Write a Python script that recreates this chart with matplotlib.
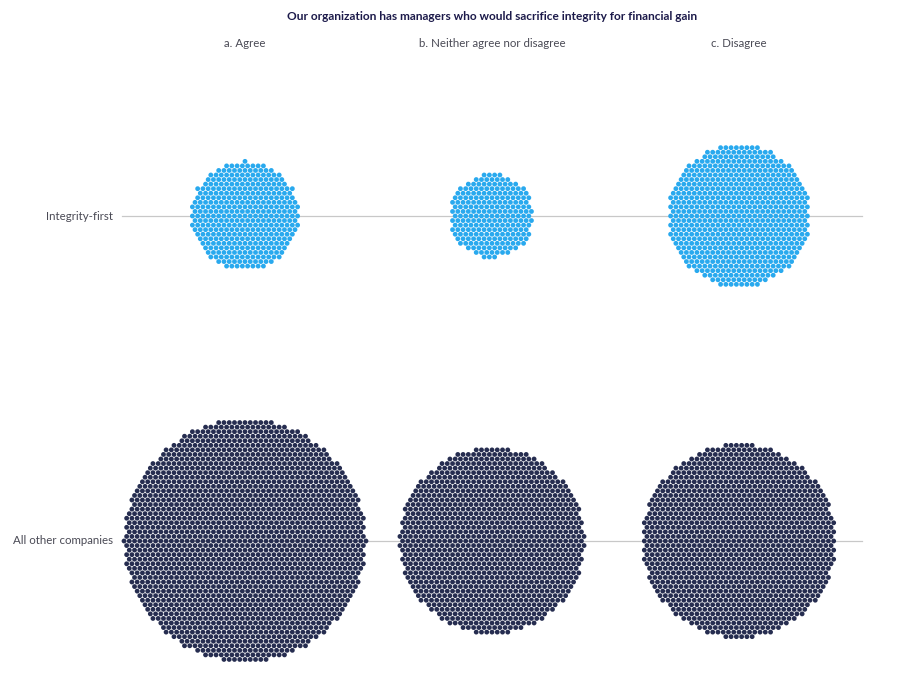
import numpy as np
import matplotlib
matplotlib.use("Agg")
from matplotlib import pyplot as plt

plt.rcParams['font.family'] = ['Lato', 'DejaVu Sans']

# answers and groups
answers = ["a. Agree", "b. Neither agree nor disagree", "c. Disagree"]
groups = ["Integrity-first", "All other companies"]
colors = ["#29a9ee", "#262d50"]

# number of dots per cluster (rows = groups, cols = answers)
counts_integrity = [382, 232, 663]
counts_other = [1925, 1137, 1237]

title = "Our organization has managers who would sacrifice integrity for financial gain"

# layout in pixels
W, H = 919, 691
col_x = [245, 492, 739]
row_y = [216, 541]
spacing = 5.26


def hex_cluster(n, s):
    # hex lattice, take the n points nearest the centre
    k = int(np.sqrt(n)) + 6
    pts = []
    for j in range(-k, k + 1):
        for i in range(-k, k + 1):
            x = i * s + (s / 2 if j % 2 else 0)
            y = j * s * np.sqrt(3) / 2
            pts.append((x, y))
    pts = np.array(pts)
    d = np.hypot(pts[:, 0], pts[:, 1])
    order = np.lexsort((pts[:, 0], pts[:, 1], d))
    return pts[order[:n]]


fig = plt.figure(figsize=(W / 100, H / 100), dpi=100)
ax = fig.add_axes([0, 0, 1, 1])
ax.set_xlim(0, W)
ax.set_ylim(H, 0)
ax.axis('off')

ax.text(492, 16, title, ha='center', va='center', fontsize=8.6,
        fontweight='bold', color='#1c1a4a')
for x, a in zip(col_x, answers):
    ax.text(x, 43, a, ha='center', va='center', fontsize=8.3, color='#4a4a55')

for y, g in zip(row_y, groups):
    ax.plot([122, 862], [y, y], color='#c8c8c8', lw=0.9, zorder=1)
    ax.text(113, y, g, ha='right', va='center', fontsize=8.3, color='#4a4a55')

for r, counts in enumerate([counts_integrity, counts_other]):
    for c, n in enumerate(counts):
        pts = hex_cluster(n, spacing)
        ax.scatter(pts[:, 0] + col_x[c], pts[:, 1] + row_y[r], s=12,
                   color=colors[r], edgecolors='none', zorder=2)

fig.savefig("out.png", dpi=100)
